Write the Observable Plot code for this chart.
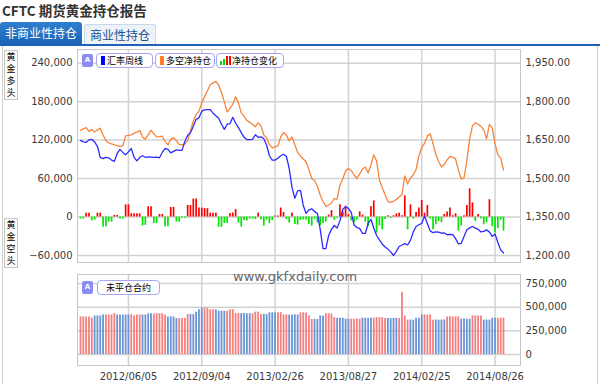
<!DOCTYPE html>
<html><head><meta charset="utf-8">
<script src="https://cdn.jsdelivr.net/npm/d3@7"></script>
<script src="https://cdn.jsdelivr.net/npm/@observablehq/plot@0.6"></script>
<style>
body{margin:0;width:600px;height:384px;position:relative;overflow:hidden;background:#fff;font-family:"DejaVu Sans",sans-serif;}
.abs{position:absolute;}
.cjk{font-family:"Noto Sans CJK SC",sans-serif;}
.vlab{position:absolute;left:4px;width:12px;border:1px solid #c4c4c4;background:#fff;font:9px/12px "Noto Sans CJK SC";text-align:center;color:#000;}
.abtn{position:absolute;width:11px;height:13px;background:#8c8cf0;border-radius:2px;color:#fff;font:bold 7px/13px "DejaVu Sans";text-align:center;}
.lg{position:absolute;height:13px;border:1px solid #a6a6f2;border-radius:4px;background:#fff;font:9px/13px "Noto Sans CJK SC";color:#000;white-space:nowrap;}
.sw{display:inline-block;width:4px;height:9px;margin:0 2px 0 4px;vertical-align:-1px;}
</style></head>
<body>
<div class="abs cjk" style="left:2px;top:0px;font-weight:bold;font-size:13.5px;color:#333;">CFTC 期货黄金持仓报告</div>
<div class="abs cjk" style="left:0;top:22px;width:82px;height:23px;background:linear-gradient(#2f7fd0,#1a62b4);border-radius:3px 3px 0 0;color:#fff;font-size:12px;line-height:22px;text-align:center;">非商业性持仓</div>
<div class="abs cjk" style="left:84px;top:24px;width:70px;height:20px;background:#eef3fa;border:1px solid #c9d7ea;border-bottom:none;border-radius:3px 3px 0 0;color:#1b4f91;font-size:12px;line-height:20px;text-align:center;">商业性持仓</div>
<div class="abs" style="left:0;top:44px;width:600px;height:2px;background:#1f62b5;"></div>
<div class="abs" style="left:2px;top:46px;width:594px;height:340px;border:1px solid #cfcfcf;border-top:none;"></div>
<div id="top1" class="abs" style="left:0;top:49px;"></div>
<div id="top2" class="abs" style="left:0;top:49px;"></div>
<div id="bot" class="abs" style="left:0;top:274px;"></div>
<div class="vlab" style="top:50px;">黄<br>金<br>多<br>头</div>
<div class="vlab" style="top:218px;">黄<br>金<br>空<br>头</div>
<div class="abtn" style="left:82px;top:54px;">A</div>
<div class="lg" style="left:96px;top:53px;width:55px;"><span class="sw" style="background:#0000ff"></span>汇率周线</div>
<div class="lg" style="left:155px;top:53px;width:58px;"><span class="sw" style="background:#ff7f27"></span>多空净持仓</div>
<div class="lg" style="left:216px;top:53px;width:66px;"><span class="sw" style="width:2px;height:4px;background:#00dd00;margin:0 0 0 3px"></span><span class="sw" style="width:2px;height:6px;background:#00dd00;margin:0 1px 0 1px"></span><span class="sw" style="width:2px;height:9px;background:#ff0000;margin:0 1px 0 0"></span><span class="sw" style="width:2px;height:9px;background:#ff0000;margin:0 1px 0 0"></span>净持仓变化</div>
<div class="abtn" style="left:82px;top:281px;">A</div>
<div class="lg" style="left:97px;top:280px;width:61px;text-align:center;">未平仓合约</div>
<div class="abs" style="left:233px;top:269px;font:13px 'DejaVu Sans';color:#666;">www.gkfxdaily.com</div>
<script>
// ---- data (weekly, 151 observations) ----
const dateLabels = ["2012/06/05","2012/09/04","2013/02/26","2013/08/27","2014/02/25","2014/08/26"];
const labelIdx = [17,43,69,95,121,147];
// 汇率周线 (gold price, right axis)
const goldPrice = [1649,1643,1641,1651,1653,1643,1626,1583,1578,1583,
1581,1572,1567,1598,1614,1602,1593,1604,1618,1583,
1569,1583,1589,1583,1585,1584,1583,1584,1581,1602,
1618,1614,1600,1606,1612,1610,1610,1645,1669,1679,
1704,1731,1737,1763,1768,1769,1769,1755,1745,1735,
1712,1692,1712,1714,1739,1716,1699,1679,1661,1652,
1652,1653,1671,1661,1663,1655,1630,1589,1572,1572,
1579,1589,1595,1587,1540,1466,1423,1452,1454,1395,
1364,1378,1382,1372,1364,1302,1227,1227,1278,1302,
1317,1307,1335,1380,1390,1384,1368,1319,1309,1306,
1286,1286,1325,1341,1307,1278,1261,1245,1233,1225,
1214,1200,1216,1235,1241,1246,1241,1259,1292,1313,
1320,1325,1354,1325,1296,1289,1292,1291,1287,1288,
1281,1282,1281,1266,1245,1247,1274,1300,1308,1313,
1307,1302,1292,1294,1300,1292,1274,1284,1251,1222,
1210];
// 多空净持仓 (net long, thousand contracts, left axis)
const netLong = [135.2,137.5,139.5,133.6,136.4,132.8,135.9,138.6,128.1,119.5,
115.9,114.1,112.5,111.4,110.2,110.9,126.6,127.3,128.1,130.8,
132.3,135.2,125,121.4,128.1,135.5,129.7,125,125.3,126.1,
118,112.5,121.1,123.9,118.8,113.3,112.5,114.1,118.8,134.4,
150,160.2,164.8,178.1,187.5,196.9,206.3,209.4,211.4,206.3,
193.8,179.7,164.1,169.5,175.8,187.5,178.1,162.5,157,150.8,
147.7,144.8,140.9,146.9,142.2,128.1,123.4,113.3,107.8,109.4,
110.9,125,132,128.1,118.8,125,113.3,100.8,95.3,90.6,
85.9,74.2,60.2,57,47.7,34.4,24.2,16.4,18.8,21.9,
28.9,28.1,50,59.4,71.9,75.8,72.7,65.6,60.2,67.2,
75,78.1,68.8,81.3,96.9,87.5,57.8,45.8,35.2,24.2,
22.7,24.7,27.3,31.3,35.2,64.1,51.6,60.9,65.6,74.2,
95.3,108.6,114.8,126.6,129.7,114.8,97.7,86.7,78.1,82,
89.1,94.5,93.4,90.6,73.4,59.4,60.9,87.5,121.9,142.2,
146.9,144.8,141.4,135.9,121.9,144.5,139.1,114.1,96.9,92.2,
73.4];
// 净持仓变化 (weekly change, thousand contracts)
const netChange = [-3,-3,6,6,-6,-5,6,6,-16,-15,
-8,-8,2.5,2.5,-3,-3,19,19,5,5,
5,5,-14,-13,16,16,-10,-10,4,4,
-15,-15,15,15,-8,-8,-2,-2,18,18,
28,28,14,14,13,13,6,6,6,-16,
-16,-10,-10,5.4,6.3,11.7,-9.4,-15.6,-5.5,-6.2,
-3.1,-2.9,-3.9,6,-4.7,-14.1,-4.7,-10.1,-5.5,1.6,
1.5,14.1,7,-3.9,-9.3,6.2,-11.7,-12.5,-5.5,-4.7,
-4.7,-11.7,-14,-3.2,-9.3,-13.3,-10.2,-7.8,3,10,
-5,-2,19,8,17,4,-6,-9,-5,8,
3,-8,-15,16,25,-25,-14,-20,-4,2,
-2,2,5,6,2,33,-20,19,-3,7,
14,26,6,18,-3,-20,-12,-7,-9,4,
8,14,2,5,-22,-14,2,18,44,22,
-7,4,-3,-12,-9,27,-15,-25,-18,-5,
-22];
// 未平仓合约 (open interest, thousand contracts)
const openInt = [397,398,396,397,383,406,408,407,417,418,
416,417,433,418,417,416,418,417,419,407,
417,418,416,417,430,431,429,430,432,430,
417,397,398,396,380,381,379,380,423,424,
422,447,473,490,491,489,473,474,472,457,
458,456,457,473,474,433,434,432,433,430,
431,429,447,448,423,424,422,440,441,439,
440,442,417,418,416,417,419,417,440,441,
439,407,370,371,369,407,408,430,431,429,
390,383,384,382,373,374,372,373,375,373,
383,384,382,383,384,390,391,389,380,381,
379,380,382,380,657,407,363,364,362,383,
384,417,418,416,417,363,364,362,363,365,
397,398,396,397,398,373,374,372,373,407,
408,406,407,363,364,362,383,384,382,383,
384];
// colour group of each open-interest bar (alternating runs)
const oiGroup = [0,0,0,0,0,1,1,1,1,0,0,0,0,1,1,1,1,1,0,0,
0,0,1,1,1,1,0,0,0,0,0,1,1,1,1,0,0,0,0,1,
1,1,1,1,0,0,0,0,1,1,1,1,0,0,0,0,0,1,1,1,
1,0,0,0,0,1,1,1,1,1,0,0,0,0,1,1,1,1,0,0,
0,0,0,1,1,1,1,0,0,0,0,1,1,1,1,1,0,0,0,0,
1,1,1,1,0,0,0,0,0,1,1,1,1,0,0,0,0,1,1,1,
1,1,0,0,0,0,1,1,1,1,0,0,0,0,0,1,1,1,1,0,
0,0,0,1,1,1,1,1,0,0,0];

const rows = goldPrice.map((g,i)=>({i, gold:g, net:netLong[i], chg:netChange[i], oi:openInt[i]*1000, grp:oiGroup[i]}));

const W = 600, frameL = 77, frameR = 520, xr = [80,503];
const font = {background:"transparent", fontFamily:"DejaVu Sans", fontSize:"10px", color:"#3a3a3a", overflow:"visible"};
const grid = {stroke:"#d2d2d2", strokeOpacity:1, strokeWidth:1.5};

const leftTicks = [-60,0,60,120,180,240];
const rightTicks = [1200,1350,1500,1650,1800,1950];

const top1 = Plot.plot({
  width: W, height: 213, marginLeft: frameL, marginRight: W-frameR, marginTop: 0, marginBottom: 0,
  style: font,
  x: {domain:[0,150], range: xr, axis:null},
  y: {domain:[-60,240], range:[206,13.7], axis:null},
  marks: [
    Plot.gridY(leftTicks, grid),
    Plot.gridX(labelIdx, grid),
    Plot.frame({stroke:"#c6c6c6"}),
    Plot.ruleX(rows.filter(d=>d.chg>=0), {x:"i", y1:0, y2:"chg", stroke:"#ff0000", strokeWidth:1.7}),
    Plot.ruleX(rows.filter(d=>d.chg<0), {x:"i", y1:0, y2:"chg", stroke:"#00e600", strokeWidth:1.7}),
    Plot.line(rows, {x:"i", y:"net", stroke:"#f7843a", strokeWidth:1.3}),
    Plot.axisY(leftTicks, {anchor:"left", label:null, tickSize:0, tickPadding:5, tickFormat:d=>d3.format(",")(d*1000)})
  ]
});
document.getElementById("top1").append(top1);

const top2 = Plot.plot({
  width: W, height: 213, marginLeft: frameL, marginRight: W-frameR, marginTop: 0, marginBottom: 0,
  style: font,
  x: {domain:[0,150], range: xr, axis:null},
  y: {domain:[1200,1950], range:[206,13.7], axis:null},
  marks: [
    Plot.line(rows, {x:"i", y:"gold", stroke:"#2b2bff", strokeWidth:1.3}),
    Plot.axisY(rightTicks, {anchor:"right", label:null, tickSize:0, tickPadding:5, tickFormat:d3.format(",.2f")})
  ]
});
document.getElementById("top2").append(top2);

const oiTicks = [0,250000,500000,750000];
const bot = Plot.plot({
  width: W, height: 110, marginLeft: frameL, marginRight: W-frameR, marginTop: 0, marginBottom: 19,
  style: font,
  x: {domain:[0,150], range: xr, axis:null},
  y: {domain:[0,750000], range:[80,9], axis:null},
  marks: [
    Plot.gridY(oiTicks, grid),
    Plot.gridX(labelIdx, grid),
    Plot.frame({stroke:"#c6c6c6"}),
    Plot.ruleX(rows.filter(d=>d.grp===0), {x:"i", y1:0, y2:"oi", stroke:"#f47f7f", strokeWidth:1.8}),
    Plot.ruleX(rows.filter(d=>d.grp===1), {x:"i", y1:0, y2:"oi", stroke:"#6a94d4", strokeWidth:1.8}),
    Plot.axisY(oiTicks, {anchor:"right", label:null, tickSize:0, tickPadding:5, tickFormat:d3.format(",")}),
    Plot.axisX(labelIdx, {anchor:"bottom", label:null, tickSize:0, tickPadding:7, tickFormat:(d,i)=>dateLabels[labelIdx.indexOf(d)]})
  ]
});
document.getElementById("bot").append(bot);
</script>
</body></html>
